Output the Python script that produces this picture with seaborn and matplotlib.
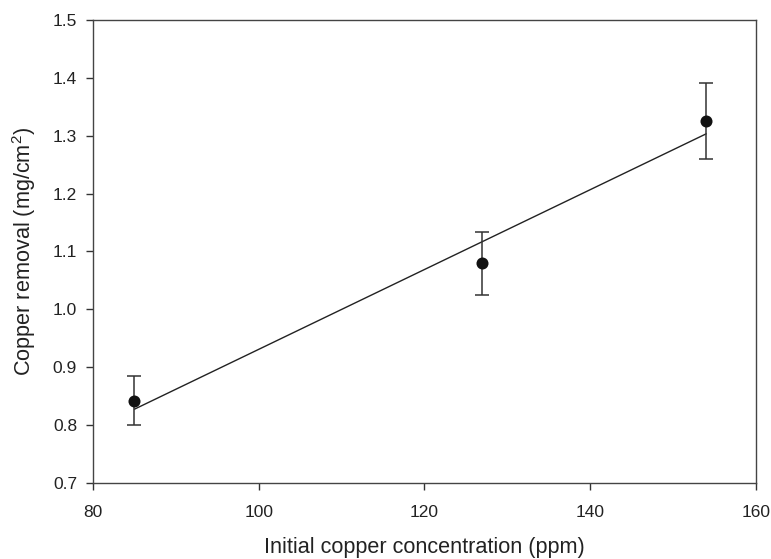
import matplotlib
matplotlib.use("Agg")
import matplotlib.pyplot as plt
import seaborn as sns
import pandas as pd

# Data
conc = [85, 127, 154]
removal = [0.842, 1.080, 1.326]
err_upper = [0.885, 1.133, 1.392]
err_lower = [0.800, 1.025, 1.260]

x_ticks = [80, 100, 120, 140, 160]
y_ticks = [0.7, 0.8, 0.9, 1.0, 1.1, 1.2, 1.3, 1.4, 1.5]

sns.set_style("ticks")
plt.rcParams['font.family'] = ['Liberation Sans', 'DejaVu Sans']
plt.rcParams['mathtext.fontset'] = 'custom'
plt.rcParams['mathtext.rm'] = 'Liberation Sans'
plt.rcParams['mathtext.it'] = 'Liberation Sans'

df = pd.DataFrame({"conc": conc, "removal": removal})

fig, ax = plt.subplots(figsize=(7.71, 5.59), dpi=100)
fig.subplots_adjust(left=0.1206, right=0.9805, top=0.9642, bottom=0.136)

# regression line
sns.regplot(data=df, x="conc", y="removal", ci=None, scatter=False, truncate=True,
            line_kws=dict(color="#222222", lw=1.0), ax=ax)

yerr = [[r - l for r, l in zip(removal, err_lower)],
        [u - r for r, u in zip(removal, err_upper)]]
ax.errorbar(conc, removal, yerr=yerr, fmt="none", ecolor="#333333",
            elinewidth=1.1, capsize=5, capthick=1.1, zorder=3)
sns.scatterplot(data=df, x="conc", y="removal", color="#111111", s=75,
                edgecolor="#111111", linewidth=0, zorder=4, ax=ax)

ax.set_xlim(80, 160)
ax.set_ylim(0.7, 1.5)
ax.set_xticks(x_ticks)
ax.set_yticks(y_ticks)
ax.set_yticklabels([f"{v:.1f}" for v in y_ticks])
ax.tick_params(axis="both", labelsize=12.5, direction="out", length=5, width=1,
               color="#333333", labelcolor="#222222")
ax.tick_params(axis="x", pad=10.8)
ax.tick_params(axis="y", pad=6.5)
for sp in ax.spines.values():
    sp.set_visible(True)
    sp.set_color("#444444")
    sp.set_linewidth(1.0)

ax.set_xlabel("Initial copper concentration (ppm)", fontsize=15.6, color="#222222", labelpad=12.5)
ax.set_ylabel("Copper removal (mg/cm$^2$)", fontsize=15.6, color="#222222", labelpad=10.5)

fig.savefig("out.png", dpi=100, facecolor="white")
